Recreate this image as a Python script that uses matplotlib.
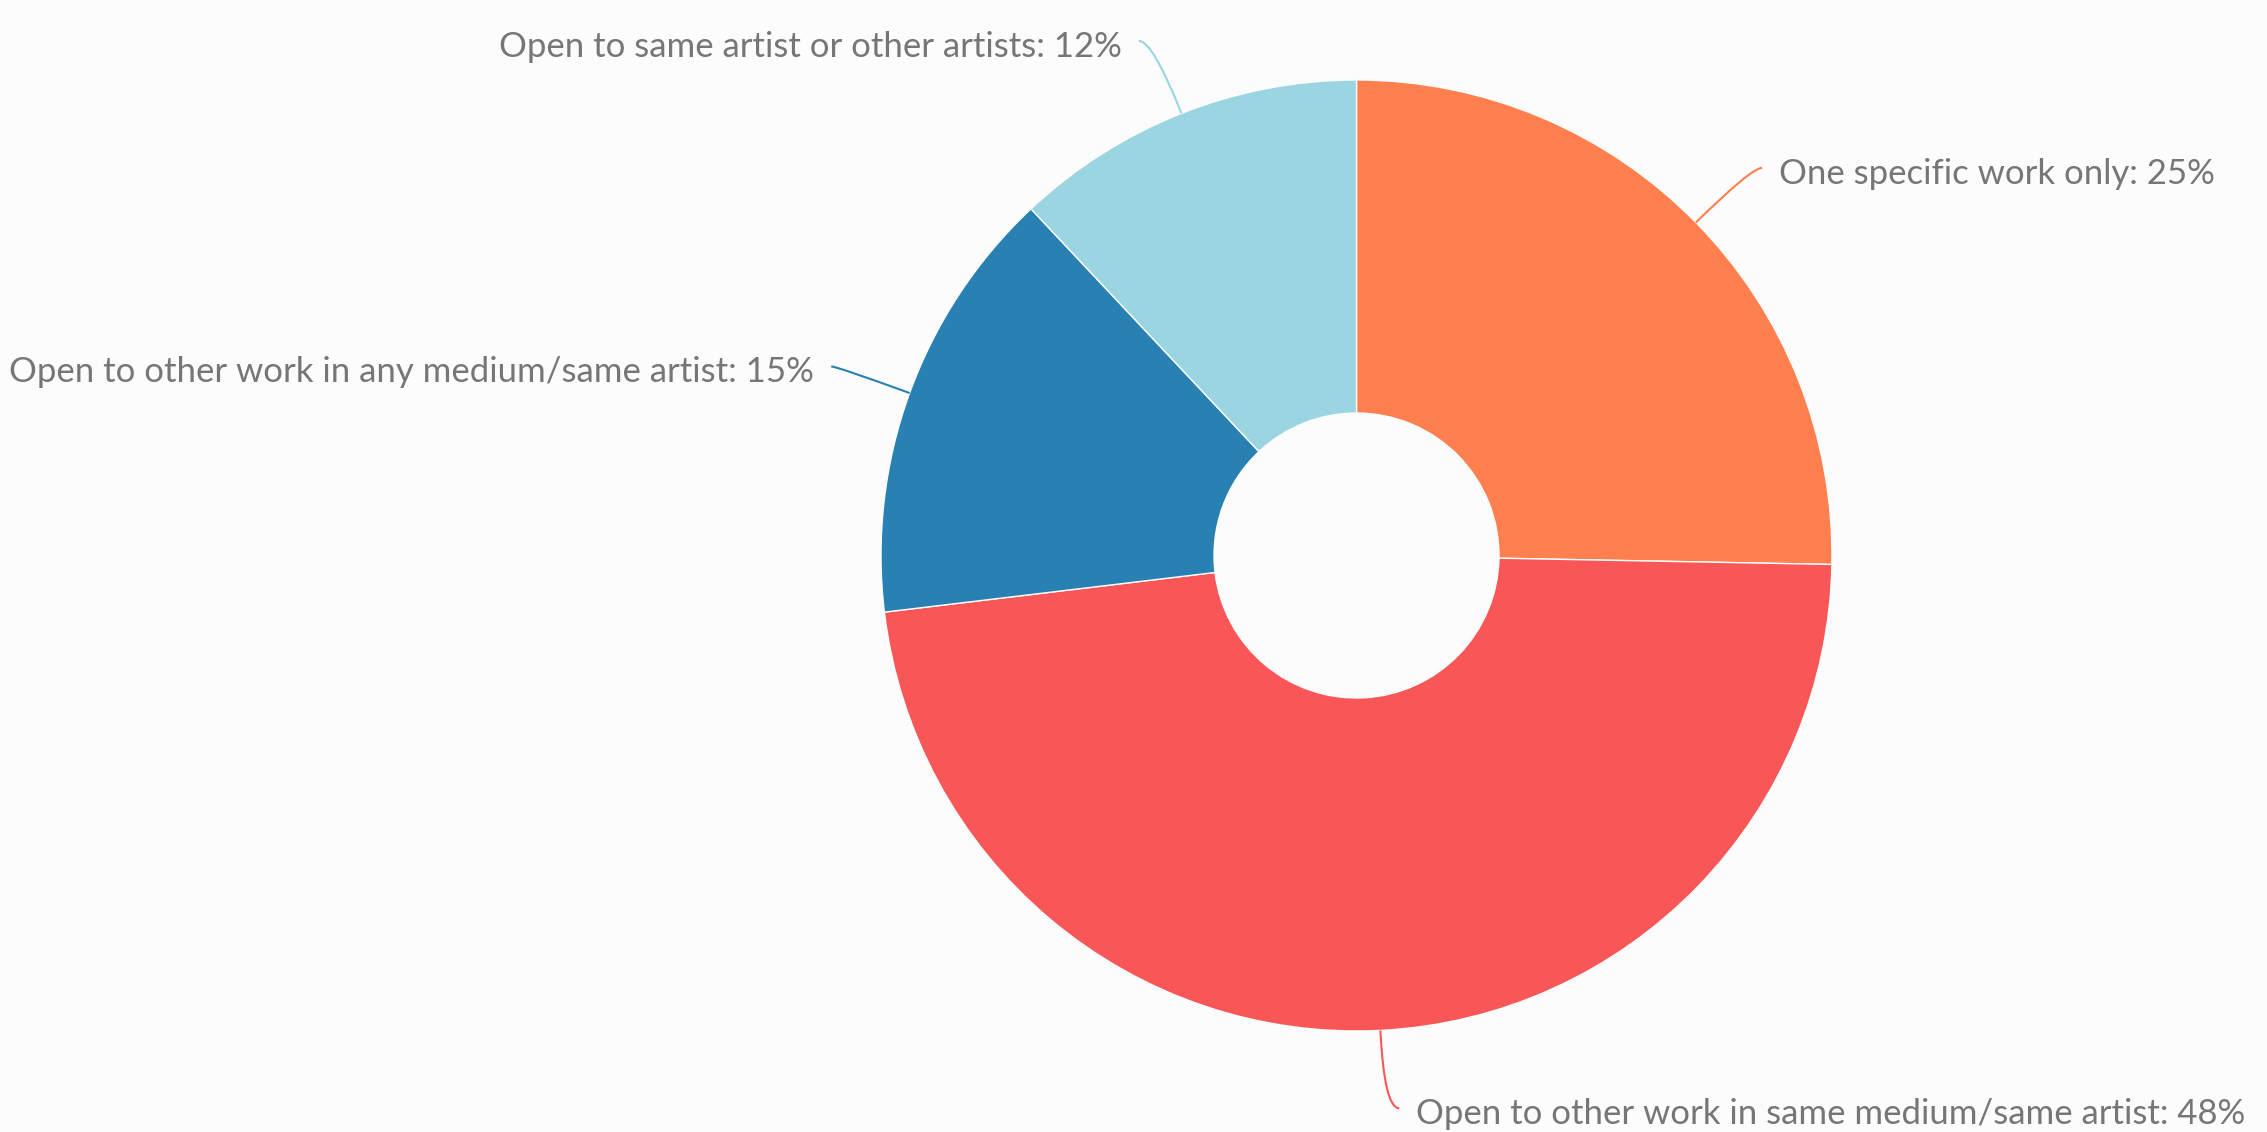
import matplotlib.pyplot as plt
import numpy as np
from matplotlib.path import Path
from matplotlib.patches import PathPatch

# slice data, clockwise from 12 o'clock
categories = [
    "One specific work only",
    "Open to other work in same medium/same artist",
    "Open to other work in any medium/same artist",
    "Open to same artist or other artists",
]
shares = [25.3, 47.8, 14.9, 12.0]
pct_labels = ["25%", "48%", "15%", "12%"]
colors = ["#FF7F4F", "#F95757", "#2980B2", "#9AD5E1"]

W, H = 2267, 1132
BG = "#FCFCFC"
TEXT = "#767676"

plt.rcParams["font.family"] = ["Lato", "DejaVu Sans"]

fig = plt.figure(figsize=(W / 100, H / 100), dpi=100, facecolor=BG)
ax = fig.add_axes([0, 0, 1, 1])
ax.set_facecolor(BG)

# work in pixel units so the ring sits where it does in the original
cx, cy = 1356.5, H - 555.5
r_out, r_in = 475.5, 142.5

wedges, _ = ax.pie(
    shares, colors=colors, startangle=90, counterclock=False,
    center=(cx, cy), radius=r_out, frame=True,
    wedgeprops=dict(width=r_out - r_in, edgecolor=BG, linewidth=1),
)
ax.set_xlim(0, W)
ax.set_ylim(0, H)
ax.axis("off")

# curved leader lines + labels
ext, gap = 78, 17
for w, cat, pct, col in zip(wedges, categories, pct_labels, colors):
    mid = np.deg2rad((w.theta1 + w.theta2) / 2)
    d = np.array([np.cos(mid), np.sin(mid)])
    p0 = np.array([cx, cy]) + r_out * d
    p1 = np.array([cx, cy]) + (r_out + ext) * d
    side = 1 if d[0] >= 0 else -1
    hook = 15 * abs(d[1])
    p2 = p1 + np.array([side * hook, 0])
    path = Path([p0, p1, p2], [Path.MOVETO, Path.CURVE3, Path.CURVE3])
    ax.add_patch(PathPatch(path, fc="none", ec=col, lw=1.5))
    ax.text(p2[0] + side * gap, p2[1] - 16, f"{cat}: {pct}",
            ha="left" if side > 0 else "right", va="baseline",
            fontsize=25, color=TEXT)

fig.savefig("out.png", dpi=100, facecolor=BG)
